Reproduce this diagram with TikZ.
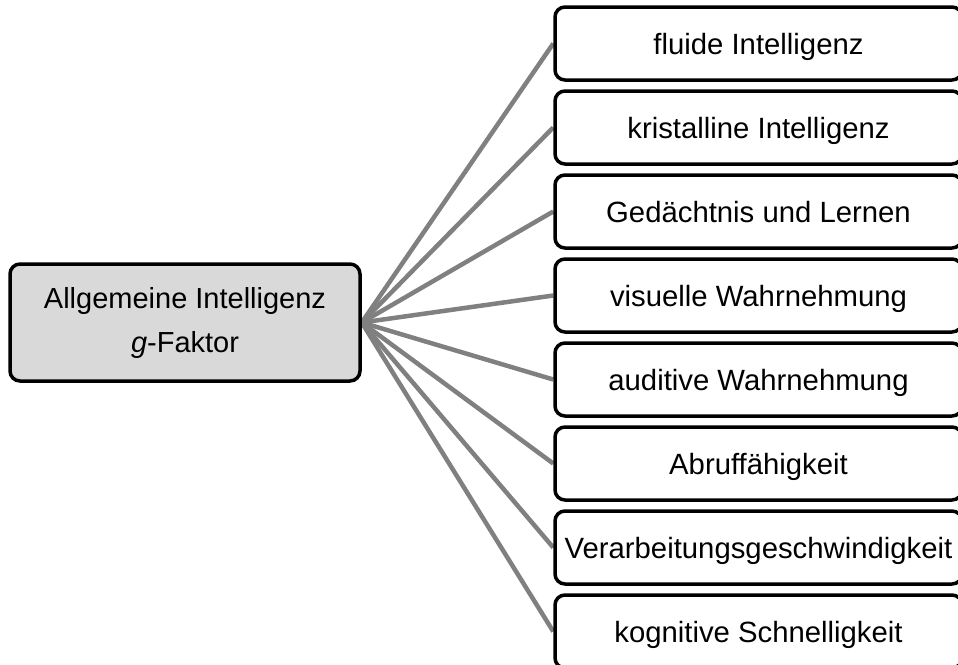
\documentclass[tikz,border=0pt]{standalone}
\usepackage{fontspec}
\setmainfont{Liberation Sans}
\usetikzlibrary{backgrounds}
\definecolor{boxgray}{HTML}{D9D9D9}
\definecolor{linegray}{HTML}{808080}
\tikzset{
  mainbox/.style={draw=black, line width=3.5pt, rounded corners=10pt, fill=boxgray,
    minimum width=350pt, minimum height=117pt, align=center, inner sep=0pt,
    font=\fontsize{29}{44}\selectfont},
  factorbox/.style={draw=black, line width=3.5pt, rounded corners=10pt, fill=white,
    minimum width=407pt, minimum height=73pt, inner sep=0pt,
    text height=22pt, text depth=0pt,
    font=\fontsize{29.3}{35}\selectfont},
  link/.style={draw=linegray, line width=4.5pt}
}
\begin{document}
\begin{tikzpicture}[x=1pt,y=-1pt]
\useasboundingbox (0,0) rectangle (958,664);
\clip (0,0) rectangle (958,664);
\node[mainbox] (g) at (185,322.5) {Allgemeine Intelligenz\\\textit{g}-Faktor};
\node[factorbox] (f1) at (758.5,43.5) {fluide Intelligenz};
\node[factorbox] (f2) at (758.5,127.5) {kristalline Intelligenz};
\node[factorbox] (f3) at (758.5,211.5) {Gedächtnis und Lernen};
\node[factorbox] (f4) at (758.5,295.5) {visuelle Wahrnehmung};
\node[factorbox] (f5) at (758.5,379.5) {auditive Wahrnehmung};
\node[factorbox] (f6) at (758.5,463.5) {Abruffähigkeit};
\node[factorbox] (f7) at (758.5,547.5) {Verarbeitungsgeschwindigkeit};
\node[factorbox] (f8) at (758.5,631.5) {kognitive Schnelligkeit};
\begin{pgfonlayer}{background}
\foreach \i in {1,...,8} {
  \draw[link] (g.east) -- (f\i.west);
}
\end{pgfonlayer}
\end{tikzpicture}
\end{document}
